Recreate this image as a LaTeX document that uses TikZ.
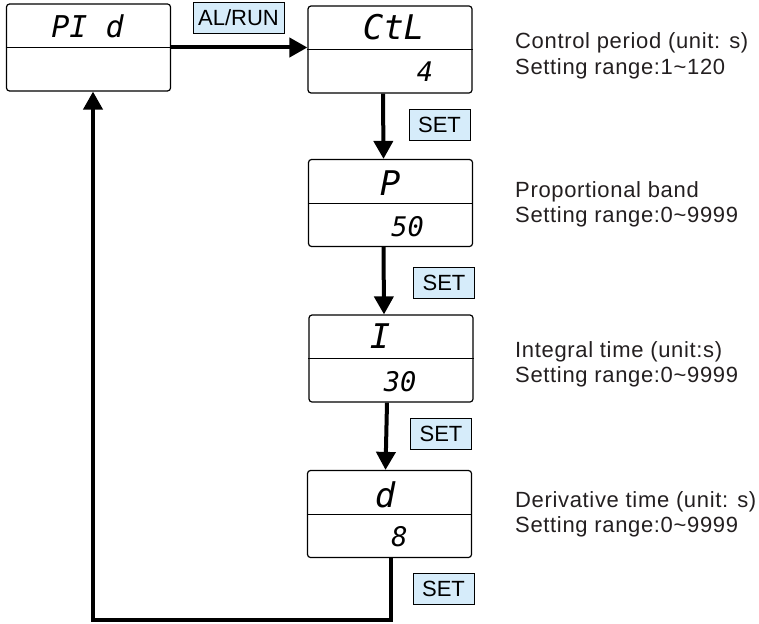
\documentclass[tikz,border=0pt]{standalone}
\usepackage{fontspec}
\setmainfont{Liberation Sans}
\newfontfamily\notefont[LetterSpace=3]{Liberation Sans}
\newfontfamily\segfont{DejaVu Sans Mono}
\usepackage{tikz}
\usetikzlibrary{arrows.meta}
\definecolor{keyblue}{RGB}{214,236,250}
\definecolor{inkgray}{RGB}{35,31,32}

\begin{document}
\begin{tikzpicture}[x=1pt,y=-1pt,
  panel/.style={draw,rounded corners=3pt,line width=1.2pt,minimum width=164pt,minimum height=87pt,inner sep=0pt},
  keybox/.style={draw,fill=keyblue,line width=0.8pt,inner sep=0pt,minimum height=31pt,font=\fontsize{22}{22}\selectfont},
  flow/.style={line width=4pt,-{Triangle[length=18pt,width=19pt]}},
  segbig/.style={inner sep=0pt,font=\segfont\itshape\fontsize{34}{34}\selectfont},
  segsmall/.style={inner sep=0pt,font=\segfont\itshape\fontsize{27}{27}\selectfont},
  note/.style={anchor=base west,inner sep=0pt,text=inkgray,font=\notefont\fontsize{22}{22}\selectfont}]
  \useasboundingbox (0,0) rectangle (759,623);

  % display panels
  \node[panel] (pid) at (88.5,47.5) {};
  \node[panel] (ctl) at (390,49.5) {};
  \node[panel] (pb) at (390.5,203) {};
  \node[panel] (it) at (391,358.5) {};
  \node[panel] (dt) at (389.5,514) {};
  \foreach \p in {pid,ctl,pb,it,dt}
    \draw[line width=1pt] (\p.west) -- (\p.east);

  % display digits
  \node[segbig,font=\segfont\itshape\fontsize{30}{30}\selectfont] (pidtop) at (87.5,26) {PI d};
  \node[segbig] (ctltop) at (393.5,27.5) {CtL};
  \node[segsmall] (ctlval) at (425,72) {4};
  \node[segbig] (pbtop) at (390,183.5) {P};
  \node[segsmall] (pbval) at (407.5,226.5) {50};
  \node[segbig] (ittop) at (380,336.5) {I};
  \node[segsmall] (itval) at (400,382) {30};
  \node[segbig] (dttop) at (385,494.5) {d};
  \node[segsmall] (dtval) at (399.5,537) {8};

  % keys
  \node[keybox,minimum width=91pt] (alrun) at (238.5,18) {AL/RUN};
  \node[keybox,minimum width=61pt] (set1) at (439.5,124.5) {SET};
  \node[keybox,minimum width=61pt] (set2) at (444,283) {SET};
  \node[keybox,minimum width=61pt] (set3) at (441,433.5) {SET};
  \node[keybox,minimum width=61pt] (set4) at (443.5,588.5) {SET};

  % arrows
  \draw[flow] (pid.east) -- (pid.east -| ctl.west);
  \draw[flow] ([xshift=-7pt]ctl.south) -- ([xshift=-7pt]pb.north);
  \draw[flow] ([xshift=-7pt]pb.south) -- ([xshift=-7pt]it.north);
  \draw[flow] ([xshift=-4pt]it.south) -- ([xshift=-4pt]dt.north);
  \coordinate (loopr) at (391,620);
  \coordinate (loopl) at (93,620);
  \draw[flow] (dt.south -| loopr) -- (loopr) -- (loopl) -- (loopl |- pid.south);

  % notes
  \node[note] (ctlnote) at (515,49) {Control period (unit: s)};
  \node[note] (ctlrange) at (515,75) {Setting range:1\textasciitilde120};
  \node[note] (pbnote) at (515,197) {Proportional band};
  \node[note] (pbrange) at (515,222) {Setting range:0\textasciitilde9999};
  \node[note] (itnote) at (515,357) {Integral time (unit:s)};
  \node[note] (itrange) at (515,382) {Setting range:0\textasciitilde9999};
  \node[note] (dtnote) at (515,507) {Derivative time (unit: s)};
  \node[note] (dtrange) at (515,532) {Setting range:0\textasciitilde9999};
\end{tikzpicture}
\end{document}
